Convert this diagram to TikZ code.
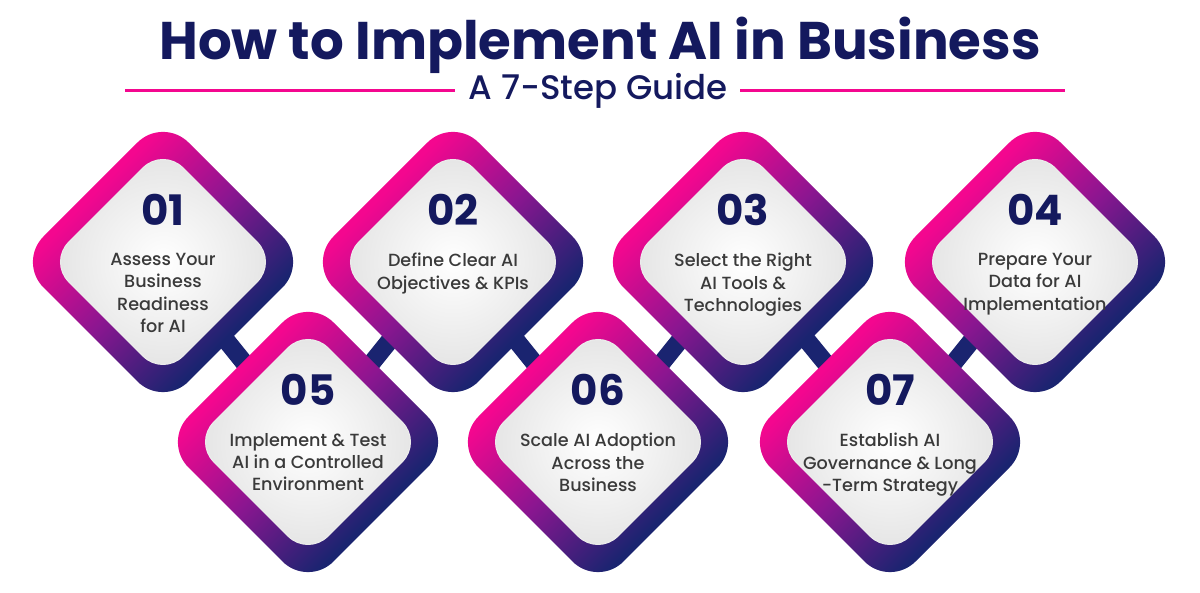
\documentclass[tikz,border=0pt]{standalone}
\usepackage{fontspec}
\usetikzlibrary{calc}
\setmainfont{Poppins}
\newfontfamily\popb{Poppins Bold}
\newfontfamily\popm{Poppins Medium}
\definecolor{navy}{HTML}{14195E}
\definecolor{pinkc}{HTML}{F4078F}
\definecolor{dnavy}{HTML}{1A2470}
\definecolor{midp}{HTML}{8A1690}
\definecolor{txt}{HTML}{3A3A3A}
\pgfdeclareverticalshading{diagrad}{100bp}{color(0bp)=(dnavy); color(33bp)=(dnavy); color(50bp)=(midp); color(67bp)=(pinkc); color(100bp)=(pinkc)}
\begin{document}
\begin{tikzpicture}[x=0.5pt,y=0.5pt,
  outerd/.style={rounded corners=18pt,shading=diagrad,shading angle=45},
  innerd/.style={rounded corners=14pt,inner color=white,outer color=black!11,draw=black!8,line width=0.6pt},
  num/.style={font=\popb\fontsize{21}{21}\selectfont,text=navy},
  lab/.style={font=\popm\fontsize{8.8}{11.2}\selectfont,text=txt,align=center},
  link/.style={draw=dnavy,line width=9pt}]
\useasboundingbox (0,0) rectangle (1200,593);
% title
\node[font=\popb\fontsize{26.5}{26.5}\selectfont,text=navy] (title) at (600,548) {How to Implement AI in Business};
\node[font=\popm\fontsize{17}{17}\selectfont,text=navy] (sub) at (598,502) {A 7-Step Guide};
\coordinate (l1) at (125,502); \coordinate (l2) at (455,502);
\coordinate (r1) at (740,502); \coordinate (r2) at (1065,502);
\draw[pinkc,line width=1.5pt] (l1) -- (l2);
\draw[pinkc,line width=1.5pt] (r1) -- (r2);
% centers
\coordinate (c1) at (163,331);
\coordinate (c2) at (453,331);
\coordinate (c3) at (743,331);
\coordinate (c4) at (1035,331);
\coordinate (c5) at (308,151);
\coordinate (c6) at (598,151);
\coordinate (c7) at (890,151);
\draw[link] (c1) -- (c5); \draw[link] (c5) -- (c2); \draw[link] (c2) -- (c6);
\draw[link] (c6) -- (c3); \draw[link] (c3) -- (c7); \draw[link] (c7) -- (c4);
\foreach \c in {1,2,3,4,5,6,7}{
  \shade[outerd] ($(c\c)+(0,145)$) -- ($(c\c)+(145,0)$) -- ($(c\c)+(0,-145)$) -- ($(c\c)+(-145,0)$) -- cycle;
  \path[innerd] ($(c\c)+(0,114)$) -- ($(c\c)+(114,0)$) -- ($(c\c)+(0,-114)$) -- ($(c\c)+(-114,0)$) -- cycle;
}
\foreach \c/\n in {1/01,2/02,3/03,4/04,5/05,6/06,7/07}{
  \node[num] (n\c) at ([yshift=26pt]c\c) {\n};
}
\node[lab,anchor=north] (t1) at ([yshift=8pt]c1) {Assess Your\\Business\\Readiness\\for AI};
\node[lab,anchor=north] (t2) at ([yshift=8pt]c2) {Define Clear AI\\Objectives \& KPIs};
\node[lab,anchor=north] (t3) at ([yshift=8pt]c3) {Select the Right\\AI Tools \&\\Technologies};
\node[lab,anchor=north] (t4) at ([yshift=8pt]c4) {Prepare Your\\Data for AI\\Implementation};
\node[lab,anchor=north] (t5) at ([yshift=8pt]c5) {Implement \& Test\\AI in a Controlled\\Environment};
\node[lab,anchor=north] (t6) at ([yshift=8pt]c6) {Scale AI Adoption\\Across the\\Business};
\node[lab,anchor=north] (t7) at ([yshift=8pt]c7) {Establish AI\\Governance \& Long\\-Term Strategy};
\end{tikzpicture}
\end{document}
